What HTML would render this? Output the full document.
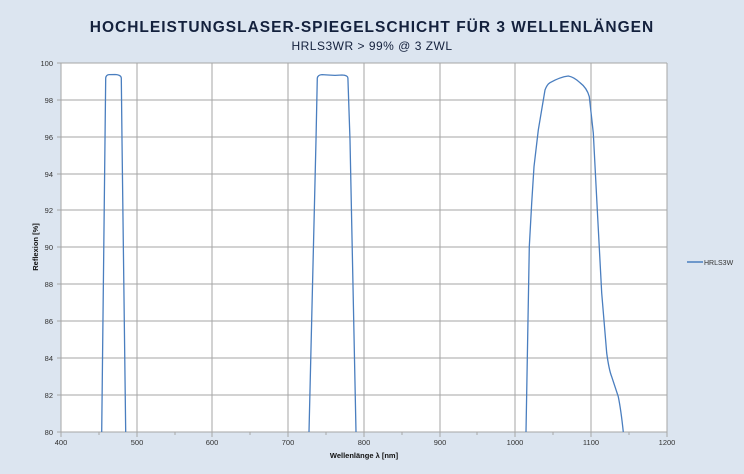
<!DOCTYPE html>
<html><head><meta charset="utf-8"><style>
body{margin:0;background:#dce5f0;}
svg{display:block;font-family:"Liberation Sans",sans-serif;}
</style></head><body>
<svg width="744" height="474" viewBox="0 0 744 474">
<rect width="744" height="474" fill="#dce5f0"/>
<text x="372" y="32" text-anchor="middle" font-size="15.5" font-weight="bold" fill="#14213d" letter-spacing="1">HOCHLEISTUNGSLASER-SPIEGELSCHICHT FÜR 3 WELLENLÄNGEN</text>
<text x="372" y="50" text-anchor="middle" font-size="12" fill="#14213d" letter-spacing="0.5">HRLS3WR &gt; 99% @ 3 ZWL</text>
<rect x="61" y="63" width="606" height="369" fill="#fff"/>
<g stroke="#a6a6a6" stroke-width="1">
<line x1="61" y1="63" x2="667" y2="63"/><line x1="61" y1="100" x2="667" y2="100"/><line x1="61" y1="137" x2="667" y2="137"/><line x1="61" y1="174" x2="667" y2="174"/><line x1="61" y1="210" x2="667" y2="210"/><line x1="61" y1="247" x2="667" y2="247"/><line x1="61" y1="284" x2="667" y2="284"/><line x1="61" y1="321" x2="667" y2="321"/><line x1="61" y1="358" x2="667" y2="358"/><line x1="61" y1="395" x2="667" y2="395"/>
<line x1="137" y1="63" x2="137" y2="432"/><line x1="212" y1="63" x2="212" y2="432"/><line x1="288" y1="63" x2="288" y2="432"/><line x1="364" y1="63" x2="364" y2="432"/><line x1="440" y1="63" x2="440" y2="432"/><line x1="515" y1="63" x2="515" y2="432"/><line x1="591" y1="63" x2="591" y2="432"/><line x1="667" y1="63" x2="667" y2="432"/>
<line x1="61" y1="63" x2="61" y2="432"/><line x1="57" y1="432" x2="667" y2="432"/>
</g>
<g stroke="#a6a6a6" stroke-width="1">
<line x1="99" y1="432" x2="99" y2="435"/><line x1="175" y1="432" x2="175" y2="435"/><line x1="250" y1="432" x2="250" y2="435"/><line x1="326" y1="432" x2="326" y2="435"/><line x1="402" y1="432" x2="402" y2="435"/><line x1="477" y1="432" x2="477" y2="435"/><line x1="553" y1="432" x2="553" y2="435"/><line x1="629" y1="432" x2="629" y2="435"/>
<line x1="61" y1="432" x2="61" y2="437"/><line x1="137" y1="432" x2="137" y2="437"/><line x1="212" y1="432" x2="212" y2="437"/><line x1="288" y1="432" x2="288" y2="437"/><line x1="364" y1="432" x2="364" y2="437"/><line x1="440" y1="432" x2="440" y2="437"/><line x1="515" y1="432" x2="515" y2="437"/><line x1="591" y1="432" x2="591" y2="437"/><line x1="667" y1="432" x2="667" y2="437"/>
<line x1="57" y1="63" x2="61" y2="63"/><line x1="57" y1="100" x2="61" y2="100"/><line x1="57" y1="137" x2="61" y2="137"/><line x1="57" y1="174" x2="61" y2="174"/><line x1="57" y1="210" x2="61" y2="210"/><line x1="57" y1="247" x2="61" y2="247"/><line x1="57" y1="284" x2="61" y2="284"/><line x1="57" y1="321" x2="61" y2="321"/><line x1="57" y1="358" x2="61" y2="358"/><line x1="57" y1="395" x2="61" y2="395"/>
</g>
<g font-size="7.5" fill="#333" text-anchor="end">
<text x="53" y="66">100</text><text x="53" y="103">98</text><text x="53" y="140">96</text><text x="53" y="177">94</text><text x="53" y="213">92</text><text x="53" y="250">90</text><text x="53" y="287">88</text><text x="53" y="324">86</text><text x="53" y="361">84</text><text x="53" y="398">82</text><text x="53" y="435">80</text>
</g>
<g font-size="7.5" fill="#333" text-anchor="middle">
<text x="61" y="445">400</text><text x="137" y="445">500</text><text x="212" y="445">600</text><text x="288" y="445">700</text><text x="364" y="445">800</text><text x="440" y="445">900</text><text x="515" y="445">1000</text><text x="591" y="445">1100</text><text x="667" y="445">1200</text>
</g>
<text x="364" y="458" text-anchor="middle" font-size="7.5" font-weight="bold" fill="#111">Wellenlänge λ [nm]</text>
<text transform="translate(38,247) rotate(-90)" text-anchor="middle" font-size="7.5" font-weight="bold" fill="#111">Reflexion [%]</text>
<g fill="none" stroke="#4a7ebf" stroke-width="1.3" stroke-linejoin="round">
<path d="M101.7,432 L105,140 L105.7,78 Q106,75 109,74.6 L115,74.5 Q121,74.8 121.3,78 L122,140 L125.7,432"/>
<path d="M309,432 L316,140 L317.3,78 Q318,74.8 322,74.6 L328,75 L335,75.4 L342,75 Q347.7,75.2 347.9,78 L350,140 L356,432"/>
<path d="M526,432 L529.3,246.7 L531.7,203 L534,166.7 L538.3,130 L545,90 Q547,84.5 550,82.7 Q560,77 568.3,76 Q574,77 580,82.7 Q587,88 589.3,96.7 L593.3,133 L597.3,210 L601.7,293 L606.7,353 Q609,370 611.7,376.7 L618.3,396.7 Q621,410 623.3,432"/>
</g>
<line x1="687" y1="262" x2="703" y2="262" stroke="#4a7ebf" stroke-width="1.5"/>
<text x="704" y="265" font-size="7" fill="#333">HRLS3W</text>
</svg>
</body></html>
